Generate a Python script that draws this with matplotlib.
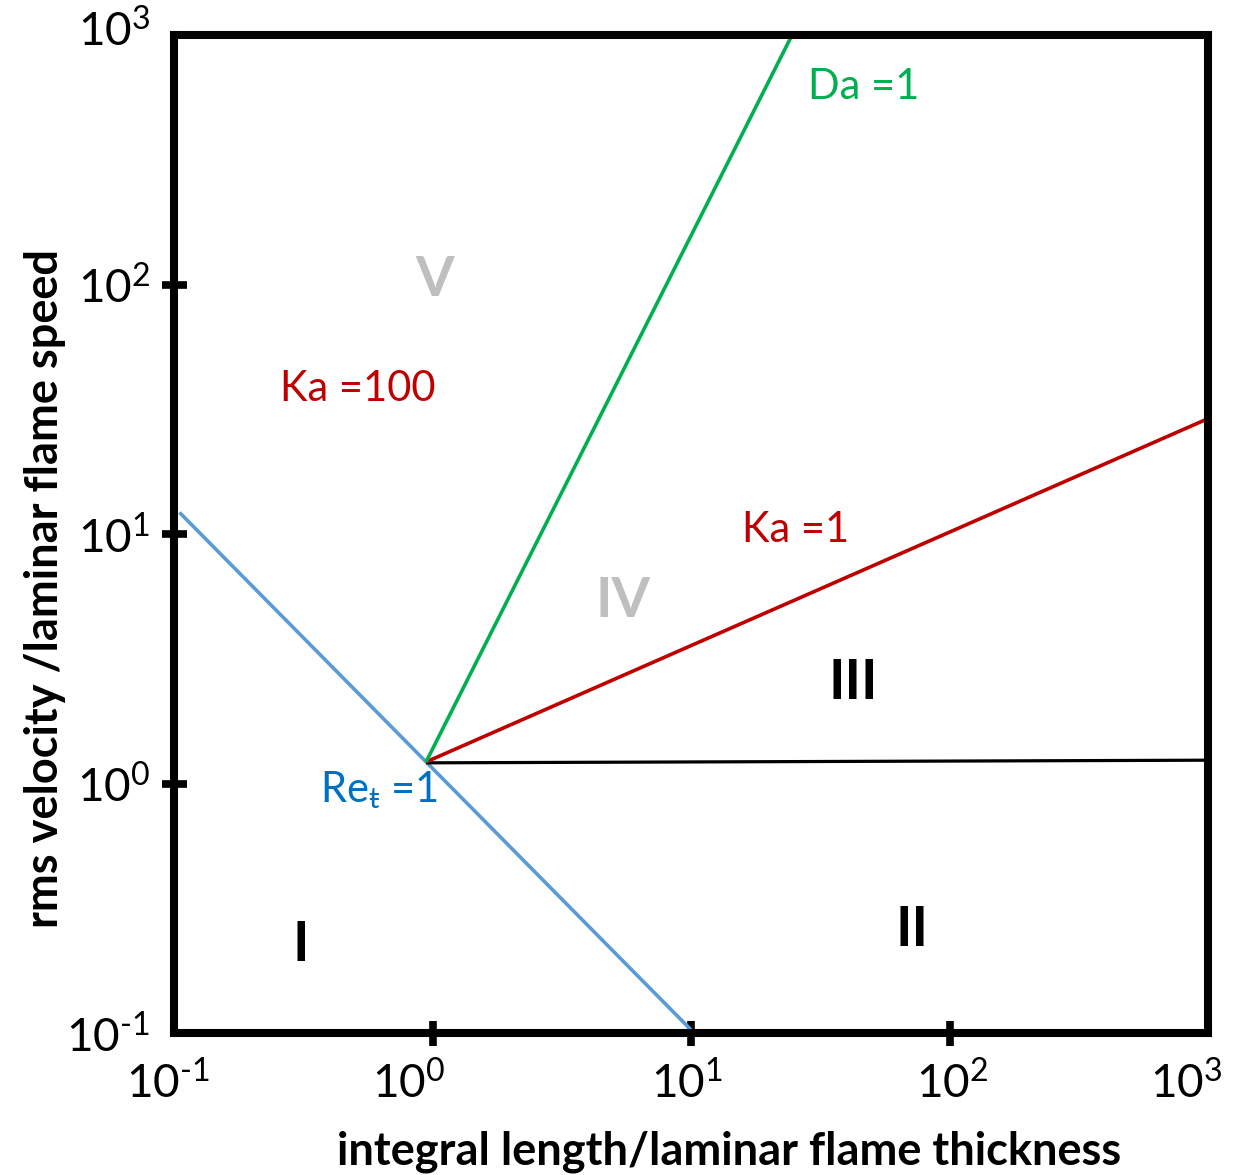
import matplotlib
matplotlib.use("Agg")
import matplotlib.pyplot as plt
from matplotlib.transforms import ScaledTranslation

plt.rcParams["font.family"] = ["Lato", "DejaVu Sans"]
plt.rcParams["mathtext.fontset"] = "custom"
plt.rcParams["mathtext.rm"] = "Lato"
plt.rcParams["mathtext.it"] = "Lato:italic"
plt.rcParams["mathtext.bf"] = "Lato:bold"

# ---- data (log-log regime diagram) ----
decades = [0.1, 1, 10, 100, 1000]
decade_labels = [r"$\mathdefault{10^{\text{-}1}}$", r"$\mathdefault{10^{0}}$", r"$\mathdefault{10^{1}}$",
                 r"$\mathdefault{10^{2}}$", r"$\mathdefault{10^{3}}$"]

re_x = [0.105, 10]
re_y = [12.2, 0.103]
flat_x = [0.944, 1000]
flat_y = [1.21, 1.24]
ka1_x = [0.944, 1000]
ka1_y = [1.22, 29.0]
da_x = [0.944, 24.6]
da_y = [1.22, 1000]

line_labels = ["Da =1", "Ka =100", "Ka =1", r"Re$_{\mathrm{ŧ}}$ =1"]
line_label_x = [28.4, 0.257, 15.7, 0.367]
line_label_y = [617, 38.1, 10.4, 0.94]
line_label_colors = ["#00B050", "#C00000", "#C00000", "#0070C0"]

regimes = ["V", "IV", "III", "II", "I"]
regime_x = [1.02, 5.46, 42.4, 71.6, 0.31]
regime_y = [104, 5.38, 2.53, 0.259, 0.225]
regime_colors = ["#BFBFBF", "#BFBFBF", "black", "black", "black"]

fig = plt.figure(figsize=(12.39, 11.75), dpi=100)
ax = fig.add_axes([174 / 1239, 1 - 1033 / 1175, (1208 - 174) / 1239, (1033 - 35) / 1175])
ax.set_xscale("log")
ax.set_yscale("log")
ax.set_xlim(0.1, 1000)
ax.set_ylim(0.1, 1000)

ax.plot(re_x, re_y, color="#5B9BD5", lw=2.6, solid_capstyle="butt")
ax.plot(flat_x, flat_y, color="black", lw=2.3, solid_capstyle="butt")
ax.plot(ka1_x, ka1_y, color="#C00000", lw=2.6, solid_capstyle="butt")
ax.plot(da_x, da_y, color="#00B050", lw=2.6, solid_capstyle="butt")

for lab, x, y, c in zip(line_labels, line_label_x, line_label_y, line_label_colors):
    ax.text(x, y, lab, color=c, fontsize=30, ha="left", va="center")

for lab, x, y, c in zip(regimes, regime_x, regime_y, regime_colors):
    ax.text(x, y, lab, color=c, fontsize=40, fontweight="bold", ha="center", va="center")

for sp in ax.spines.values():
    sp.set_linewidth(5.8)

ax.set_xticks(decades)
ax.set_xticklabels(decade_labels)
ax.set_yticks(decades)
ax.set_yticklabels(decade_labels)
ax.minorticks_off()
ax.tick_params(axis="both", direction="inout", length=18, width=5.5, labelsize=33)
ax.tick_params(axis="x", pad=11)
ax.tick_params(axis="y", pad=8)
for t in (ax.xaxis.get_major_ticks()[0], ax.xaxis.get_major_ticks()[-1],
          ax.yaxis.get_major_ticks()[0], ax.yaxis.get_major_ticks()[-1]):
    t.tick1line.set_visible(False)
    t.tick2line.set_visible(False)

# small horizontal nudges of the x labels, as in the original drawing
x_shift_px = [-6, -24, -4, 3, -22]
for lab, dx in zip(ax.get_xticklabels(), x_shift_px):
    lab.set_transform(lab.get_transform() + ScaledTranslation(dx / 100, 0, fig.dpi_scale_trans))
y_shift_px = [0, 0, 0, 0, 8]
for lab, dy in zip(ax.get_yticklabels(), y_shift_px):
    lab.set_transform(lab.get_transform() + ScaledTranslation(0, dy / 100, fig.dpi_scale_trans))

fig.text(729 / 1239, 1 - 1152 / 1175, "integral length/laminar flame thickness",
         fontsize=32.5, fontweight="bold", ha="center", va="center")
fig.text(45 / 1239, 1 - 588 / 1175, "rms velocity /laminar flame speed",
         fontsize=32.5, fontweight="bold", ha="center", va="center", rotation=90)

fig.savefig("out.png", dpi=100)
